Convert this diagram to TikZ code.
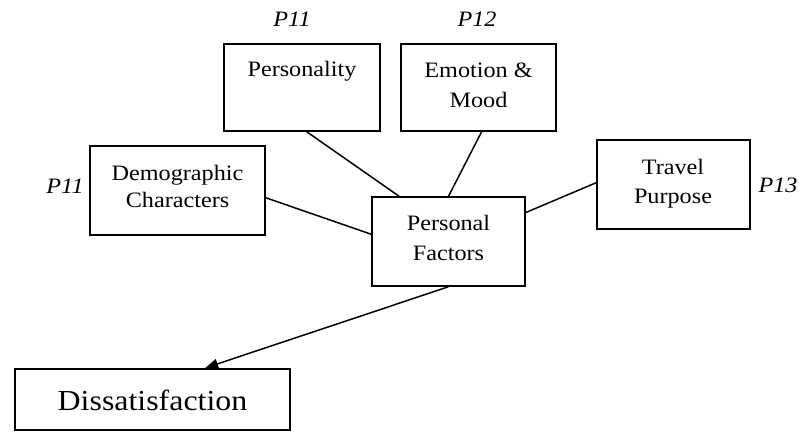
\documentclass[tikz,border=0pt]{standalone}
\usepackage{fontspec}
\setmainfont{Liberation Serif}[FakeStretch=1.1]
\usetikzlibrary{calc,arrows.meta}
\begin{document}
\begin{tikzpicture}[x=1pt,y=-1pt,
  box/.style={draw,line width=1.5pt,rectangle,inner sep=0pt},
  txt/.style={font=\fontsize{22}{26}\selectfont,anchor=base,inner sep=0pt},
  plab/.style={font=\fontsize{22}{26}\selectfont\itshape,anchor=base,inner sep=0pt},
  link/.style={line width=1.5pt}]
\useasboundingbox (0,0) rectangle (799,432);
% boxes
\node[box,minimum width=156pt,minimum height=87pt] (pers) at (302,87.5) {};
\node[box,minimum width=155pt,minimum height=87pt] (emo) at (478.5,87.5) {};
\node[box,minimum width=175pt,minimum height=89pt] (demo) at (177.5,190.5) {};
\node[box,minimum width=153pt,minimum height=89pt] (trav) at (673.5,184.5) {};
\node[box,minimum width=153pt,minimum height=89pt] (pf) at (448.5,241.5) {};
\node[box,line width=2pt,minimum width=275pt,minimum height=61pt] (dis) at (152.5,399.5) {};
% texts
\node[txt] (persT) at (302,76) {Personality};
\node[txt] (emoT1) at (478.5,77) {Emotion \&};
\node[txt] (emoT2) at (478.5,107) {Mood};
\node[txt] (demoT1) at (177.5,180) {Demographic};
\node[txt] (demoT2) at (177.5,207) {Characters};
\node[txt] (travT1) at (673,174) {Travel};
\node[txt] (travT2) at (673,203) {Purpose};
\node[txt] (pfT1) at (448.5,230) {Personal};
\node[txt] (pfT2) at (448.5,260) {Factors};
\node[txt,font=\fontsize{29}{34}\selectfont] (disT) at (152.5,410) {Dissatisfaction};
% P labels
\node[plab] (p1) at (292,26) {P11};
\node[plab] (p2) at (477,26) {P12};
\node[plab] (p3) at (65,193) {P11};
\node[plab] (p4) at (778,192) {P13};
% connectors
\draw[link] ($(pers.south west)!0.53!(pers.south east)$) -- ($(pf.north west)!0.18!(pf.north east)$);
\draw[link] ($(emo.south west)!0.52!(emo.south east)$) -- (pf.north);
\draw[link] ($(demo.north east)!0.58!(demo.south east)$) -- ($(pf.north west)!0.42!(pf.south west)$);
\draw[link] ($(trav.north west)!0.48!(trav.south west)$) -- ($(pf.north east)!0.18!(pf.south east)$);
\draw[link,-{Triangle[length=13pt,width=10pt]}] (pf.south) -- ($(dis.north west)!0.69!(dis.north east)$);
\end{tikzpicture}
\end{document}
